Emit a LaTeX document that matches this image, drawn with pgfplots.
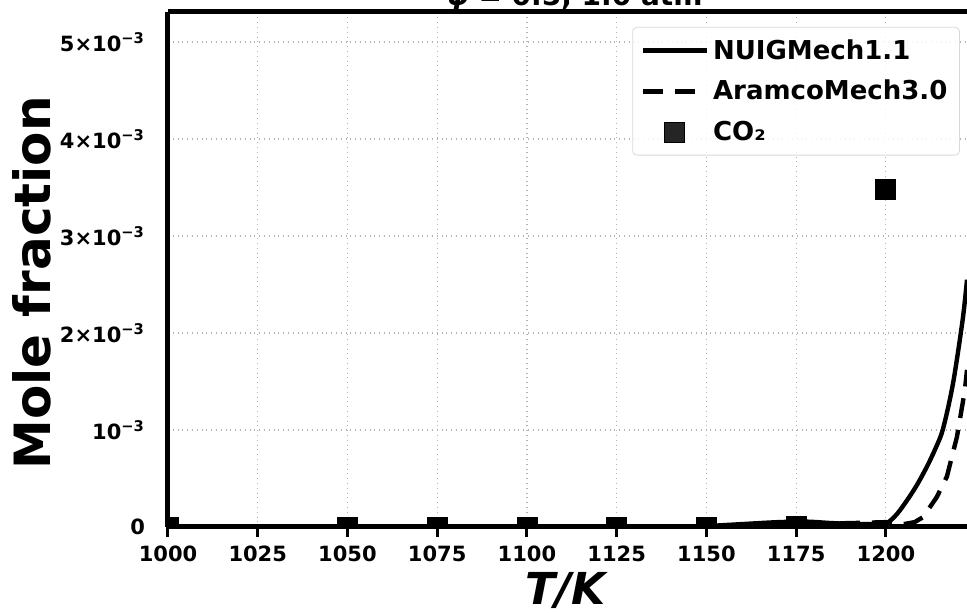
\documentclass[border=0pt]{standalone}
\usepackage{fontspec}
\setmainfont{DejaVu Sans}
\usepackage{pgfplots}
\pgfplotsset{compat=1.18}
\pgfplotsset{
  mylinelegend/.style={legend image code/.code={\draw[##1] (0pt,0pt) -- (32pt,0pt);}},
  mymarklegend/.style={legend image code/.code={\draw[##1] plot coordinates {(16pt,0pt)};}},
}
\begin{document}
\begin{tikzpicture}
\begin{axis}[
  at={(0,0)}, anchor=south west,
  scale only axis, width=399.5pt, height=257.5pt,
  xmin=1000, xmax=1222.6, ymin=0, ymax=5.31e-3,
  axis x line=box, axis y line*=left,
  axis line style={line width=2.5pt},
  xtick={1000,1025,1050,1075,1100,1125,1150,1175,1200},
  xtick pos=bottom,
  ytick={0,0.001,0.002,0.003,0.004,0.005},
  yticklabels={0,10\textsuperscript{−3},2×10\textsuperscript{−3},3×10\textsuperscript{−3},4×10\textsuperscript{−3},5×10\textsuperscript{−3}},
  scaled y ticks=false,
  /pgf/number format/assume math mode=true,
  /pgf/number format/1000 sep={},
  tick align=outside,
  major tick length=5pt,
  xtick style={line width=1.5pt, black},
  ytick style={draw=none},
  ticklabel style={font=\bfseries\fontsize{10.5}{12}\selectfont},
  xticklabel style={yshift=-1pt},
  yticklabel style={xshift=-3pt},
  grid=major,
  major grid style={gray!60, dotted, line width=0.6pt},
  xlabel={\bfseries\itshape T/K},
  xlabel style={font=\fontsize{22}{26}\selectfont, at={(axis description cs:0.497,0)}, anchor=base, inner sep=0pt, yshift=-39pt},
  ylabel={\bfseries Mole fraction},
  ylabel style={font=\fontsize{25}{30}\selectfont, at={(axis description cs:-0.195,0.474)}, anchor=north, inner sep=0pt, rotate=0},
  title={{\itshape φ} = 0.5, 1.0 atm},
  title style={font=\bfseries\fontsize{14}{16}\selectfont, at={(axis description cs:0.509,1)}, anchor=base, yshift=-2.6pt, inner sep=0pt},
  clip marker paths=true,
  legend style={at={(0.991,0.971)}, anchor=north east, draw=black!15, rounded corners=2pt,
    font=\bfseries\fontsize{13}{15}\selectfont, row sep=5pt, inner sep=4pt, fill=white, fill opacity=0.85, text opacity=1},
  legend cell align=left,
]
\addplot[black, line width=2.2pt, smooth, mylinelegend]
  coordinates {(1000,0) (1050,0) (1100,0) (1140,0.000003) (1150,0.00001) (1160,0.00003) (1170,0.00005) (1178,0.000055) (1185,0.00004) (1192,0.00003) (1198,0.00003) (1200.3,0.00004) (1203,0.00013) (1205.8,0.00027) (1208.6,0.00043) (1211.4,0.00062) (1213.7,0.00080) (1215.9,0.00101) (1218.7,0.00148) (1221.4,0.00214) (1222.6,0.00255)};
\addlegendentry{NUIGMech1.1}
\addplot[black, line width=2.2pt, dash pattern=on 10pt off 6pt, mylinelegend]
  coordinates {(1000,0) (1100,0) (1150,0.000005) (1175,0.00003) (1190,0.00004) (1200,0.00005) (1205,0.00003) (1208,0.00005) (1210.3,0.00010) (1212,0.00019) (1214.2,0.00031) (1217,0.00052) (1219.8,0.00093) (1222,0.00141) (1222.6,0.00162)};
\addlegendentry{AramcoMech3.0}
\addplot[only marks, mark=square*, mark size=5pt, black, mark options={rounded corners=1.5pt}, mymarklegend]
  coordinates {(1000,0) (1050,0) (1075,0) (1100,0) (1125,0) (1150,0) (1175,0.00001) (1200,0.00348) (1224,0.00437)};
\addlegendentry{CO₂}
\end{axis}
\pgfresetboundingbox
\path (-84pt,-43pt) rectangle (399.5pt,263.5pt);
\end{tikzpicture}
\end{document}
